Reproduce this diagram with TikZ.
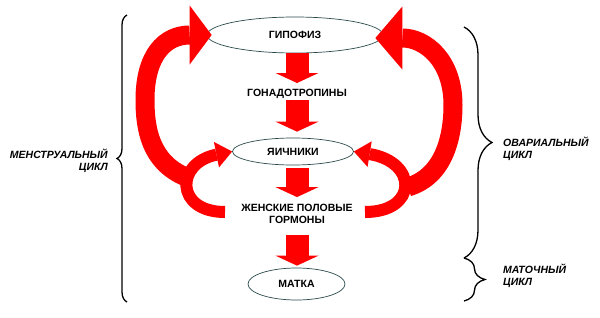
\documentclass[tikz,border=0pt]{standalone}
\usepackage{fontspec}
\setmainfont{Liberation Sans}
\usetikzlibrary{arrows.meta,decorations.pathreplacing,shapes.geometric}
\definecolor{edgec}{RGB}{45,75,75}
\definecolor{arr}{RGB}{255,0,0}
\begin{document}
\begin{tikzpicture}[x=1pt,y=-1pt,
  lbl/.style={font=\fontsize{10.5}{12}\selectfont\bfseries, inner sep=0pt, align=center},
  side/.style={font=\fontsize{10.5}{12}\selectfont\bfseries\itshape, inner sep=0pt},
  oval/.style={ellipse, draw=edgec, line width=0.7pt, inner sep=0pt,
    font=\fontsize{10.5}{12}\selectfont\bfseries},
  blockarrow/.style={draw=arr, line width=23pt, -{Triangle[length=10pt,width=43pt,line width=0pt]}},
  bigarrow/.style 2 args={draw=arr, line width=19pt, -{Triangle[length=#1,width=#2,line width=0pt]}},
  smallarrow/.style={draw=arr, line width=12pt, -{Triangle[length=16pt,width=26pt,line width=0pt]}},
  bracec/.style={draw, line width=1.3pt, decorate, decoration={brace, amplitude=#1}}
]
\path[use as bounding box, fill=white] (0,0) rectangle (600,317);

% nodes
\node[oval, minimum width=176pt, minimum height=36pt] (gip) at (295,35) {ГИПОФИЗ};
\node[lbl, text height=7.6pt, text depth=0pt] (gon) at (297,93) {ГОНАДОТРОПИНЫ};
\node[oval, minimum width=121pt, minimum height=27pt] (yai) at (293,151.5) {ЯИЧНИКИ};
\node[lbl] (hor) at (297,214) {ЖЕНСКИЕ ПОЛОВЫЕ\\ГОРМОНЫ};
\node[oval, minimum width=97pt, minimum height=32pt] (mat) at (296.5,284) {МАТКА};

\node[side, anchor=east, align=right] (men) at (108,161) {МЕНСТРУАЛЬНЫЙ\\ЦИКЛ};
\node[side, anchor=west, align=left] (ova) at (503,149) {ОВАРИАЛЬНЫЙ\\ЦИКЛ};
\node[side, anchor=west, align=left] (mtc) at (503,276) {МАТОЧНЫЙ\\ЦИКЛ};

% braces
\draw[bracec=10pt] (127,302) -- (127,15);
\draw[bracec=28pt] (464,27) -- (464,258);
\draw[bracec=21pt] (464,258) -- (464,301);

% vertical block arrows
\draw[blockarrow, shorten >=6pt] (gon.north |- gip.south) -- (gon.north);
\draw[blockarrow, shorten <=3pt, shorten >=6pt] (gon.south) -- (gon.south |- yai.north);
\draw[blockarrow, shorten <=3pt, shorten >=7pt] (hor.north |- yai.south) -- (hor.north);
\draw[blockarrow, shorten <=11pt, shorten >=2pt] (hor.south) -- (hor.south |- mat.north);

% tails of the feedback arrows
\coordinate (bl) at (186,177);
\coordinate (br) at (408,187);
\coordinate (sl) at (225,212);
\coordinate (sr) at (365,212);

% big feedback arrows
\draw[bigarrow={22pt}{59pt}] (bl) .. controls (150,162) and (145,128) .. (145,100)
  .. controls (145,55) and (165,35) .. ([xshift=5pt]gip.west);
\draw[bigarrow={27pt}{63pt}] (br) .. controls (445,176) and (453,135) .. (453,105)
  .. controls (453,60) and (425,38) .. ([xshift=-8pt,yshift=-3pt]gip.east);

% small feedback arrows
\draw[smallarrow] (sl) .. controls (175,212) and (175,163) .. (yai.west);
\draw[smallarrow] (sr) .. controls (418,212) and (418,162) .. (yai.east);
\end{tikzpicture}
\end{document}
